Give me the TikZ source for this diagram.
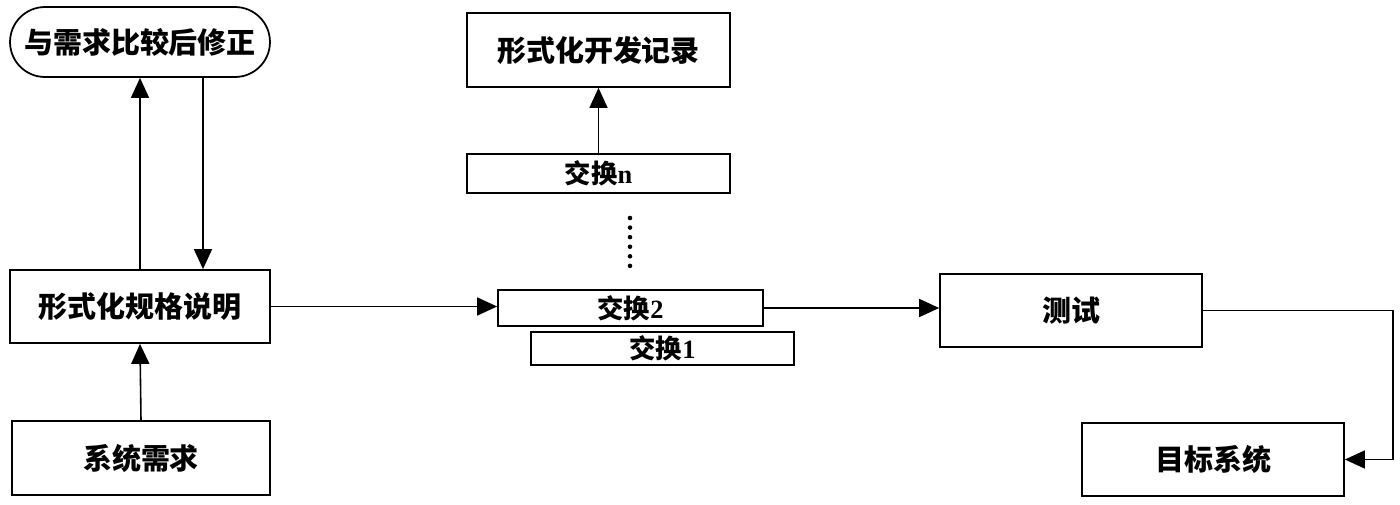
\documentclass[tikz,border=0pt]{standalone}
\usepackage{fontspec}
\newfontfamily\cjk{Noto Sans CJK SC}
\newfontfamily\lat{Liberation Serif}
\usetikzlibrary{arrows.meta}
\begin{document}
\begin{tikzpicture}[x=0.02cm,y=-0.02cm,
  box/.style={draw,line width=1pt,inner sep=0pt,font=\cjk\bfseries\fontsize{16.5pt}{18pt}\selectfont},
  xbox/.style={draw,line width=1pt,inner sep=0pt,font=\cjk\bfseries\fontsize{15pt}{17pt}\selectfont},
  arr/.style={line width=0.9pt,-{Triangle[length=0.4cm,width=0.36cm]}},
  ln/.style={line width=0.9pt}]
\useasboundingbox (0,0) rectangle (1400,504);
\node[box,rounded corners=0.7cm,minimum width=5.2cm,minimum height=1.4cm] (round) at (140,42) {与需求比较后修正};
\node[box,minimum width=5.2cm,minimum height=1.46cm] (rule) at (140,306.5) {形式化规格说明};
\node[box,minimum width=5.16cm,minimum height=1.48cm] (req) at (141,458) {系统需求};
\node[box,minimum width=5.26cm,minimum height=1.48cm] (rec) at (598.5,50) {形式化开发记录};
\node[xbox,minimum width=5.26cm,minimum height=0.78cm] (xn) at (598.5,173.5) {交换{\lat n}};
\node[xbox,minimum width=5.3cm,minimum height=0.72cm] (x2) at (630.5,308) {交换{\lat 2}};
\node[xbox,minimum width=5.26cm,minimum height=0.66cm] (x1) at (662.5,348.5) {交换{\lat 1}};
\node[box,minimum width=5.24cm,minimum height=1.46cm] (test) at (1071,310.5) {测试};
\node[box,minimum width=5.24cm,minimum height=1.46cm] (goal) at (1213,459.5) {目标系统};
\coordinate (d1) at (630,218);
\coordinate (d2) at (630,266);
\draw[line width=2.6pt,line cap=round,dash pattern=on 0pt off 5.45pt] (d1) -- (d2);
\draw[arr] (rule.north) -- (round.south);
\draw[arr] ([xshift=1.26cm]round.south) -- ([xshift=1.26cm]rule.north);
\draw[arr] (req.north) -- (rule.south);
\draw[arr] (rule.east) -- (rule.east -| x2.west);
\draw[arr] (xn.north) -- (rec.south);
\draw[arr] (x2.east) -- (x2.east -| test.west);
\draw[arr] (test.east) -- ++(190,0) |- (goal.east);
\end{tikzpicture}
\end{document}
